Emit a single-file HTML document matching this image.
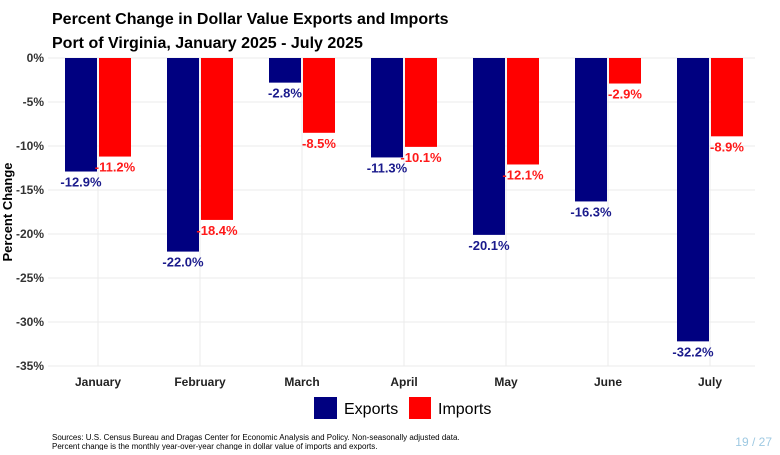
<!DOCTYPE html>
<html><head><meta charset="utf-8"><style>
body{margin:0;background:#fff;width:780px;height:450px;overflow:hidden;font-family:"Liberation Sans",Arial,sans-serif}
</style></head><body>
<svg width="780" height="450" xmlns="http://www.w3.org/2000/svg" font-family="Liberation Sans, Arial, sans-serif">
<text x="52" y="24" font-size="16" font-weight="bold" fill="#000">Percent Change in Dollar Value Exports and Imports</text>
<text x="52" y="48" font-size="16" font-weight="bold" fill="#000">Port of Virginia, January 2025 - July 2025</text>
<g id="grid"></g>
<g id="bars"></g>
<g id="labels"></g>
<text transform="translate(12,212) rotate(-90)" text-anchor="middle" font-size="13" font-weight="bold">Percent Change</text>
<rect x="314" y="397" width="23" height="22" fill="#000080"/>
<text x="344" y="414" font-size="16">Exports</text>
<rect x="409" y="397" width="22" height="22" fill="#ff0000"/>
<text x="438" y="414" font-size="16">Imports</text>
<text x="52" y="440" font-size="8" fill="#000">Sources: U.S. Census Bureau and Dragas Center for Economic Analysis and Policy. Non-seasonally adjusted data.</text>
<text x="52" y="449" font-size="8" fill="#000">Percent change is the monthly year-over-year change in dollar value of imports and exports.</text>
<text x="772" y="446" font-size="12" fill="#9ec9e2" text-anchor="end">19 / 27</text>
</svg>
<script>
const categories=["January","February","March","April","May","June","July"];
const exportsVals=[-12.9,-22.0,-2.8,-11.3,-20.1,-16.3,-32.2];
const importsVals=[-11.2,-18.4,-8.5,-10.1,-12.1,-2.9,-8.9];
const yTicks=[0,-5,-10,-15,-20,-25,-30,-35];
const NS="http://www.w3.org/2000/svg";
const y=v=>58+(-v)*8.8;
const x=i=>98+i*102;
const grid=document.getElementById('grid'),bars=document.getElementById('bars'),labels=document.getElementById('labels');
function mk(tag,attrs,parent,text){const e=document.createElementNS(NS,tag);for(const k in attrs)e.setAttribute(k,attrs[k]);if(text!==undefined)e.textContent=text;parent.appendChild(e);return e;}
yTicks.forEach(t=>{
 const l=mk('line',{x1:48,x2:755,y1:y(t),y2:y(t),stroke:'#ebebeb','stroke-width':1},grid);
 
 
 const tx=mk('text',{x:44,y:y(t)+4,'text-anchor':'end','font-size':12,'font-weight':'bold',fill:'#333'},grid,t+'%');
 
 
});
categories.forEach((c,i)=>{
 const l=mk('line',{x1:x(i),x2:x(i),y1:58,y2:366,stroke:'#ebebeb','stroke-width':1},grid);
 
 
 const tx=mk('text',{x:x(i),y:386,'text-anchor':'middle','font-size':12,'font-weight':'bold',fill:'#222'},grid,c);
 
 
 const e=exportsVals[i],m=importsVals[i];
 const be=mk('rect',{x:x(i)-33,y:y(0),width:32,height:y(e)-y(0),fill:'#000080'},bars);
 
 
 const bi=mk('rect',{x:x(i)+1,y:y(0),width:32,height:y(m)-y(0),fill:'#ff0000'},bars);
 
 
 const le=mk('text',{x:x(i)-17,y:y(e)+15,'text-anchor':'middle','font-size':13,'font-weight':'bold',fill:'#1a1a8c'},labels,e.toFixed(1)+'%');
 
 
 const li=mk('text',{x:x(i)+17,y:y(m)+15,'text-anchor':'middle','font-size':13,'font-weight':'bold',fill:'#ff1a1a'},labels,m.toFixed(1)+'%');
 
 
});
</script>
</body></html>
